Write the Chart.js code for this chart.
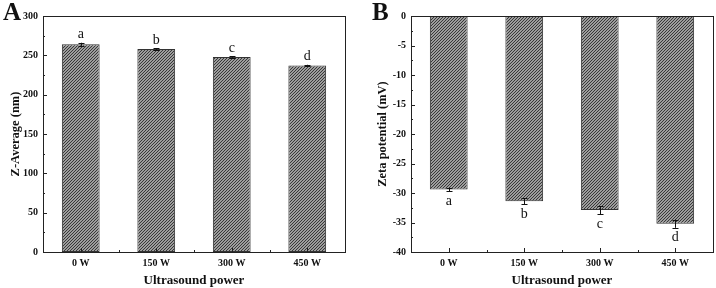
<!DOCTYPE html>
<html>
<head>
<meta charset="utf-8">
<script src="https://cdn.jsdelivr.net/npm/chart.js@4"></script>
<style>
  html, body { margin: 0; padding: 0; background: #fff; }
  #wrap { position: relative; width: 716px; height: 288px; display: flex; }
  .panel { position: relative; width: 358px; height: 288px; }
  .letter { position: absolute; font: bold 25px 'Liberation Serif', serif; color: #111; }
</style>
</head>
<body>
<div id="wrap">
  <div class="panel"><canvas id="chartA" width="358" height="288"></canvas><div class="letter" style="left:3px;top:-2px">A</div></div>
  <div class="panel"><canvas id="chartB" width="358" height="288"></canvas><div class="letter" style="left:14px;top:-2px">B</div></div>
</div>
<script>
// Data
const powers = ["0 W", "150 W", "300 W", "450 W"];
const zAverage = [264, 258, 248, 237];
const zAverageErr = [2, 1, 1, 1];
const zAverageLetters = ["a", "b", "c", "d"];
const zeta = [-29.4, -31.4, -32.9, -35.2];
const zetaErr = [0.3, 0.5, 0.7, 0.7];
const zetaLetters = ["a", "b", "c", "d"];

const serif = "'Liberation Serif', 'Times New Roman', serif";

// Hatched fill like the original
function makeHatch() {
    const s = 3;
    const c = document.createElement("canvas");
    c.width = s; c.height = s;
    const g = c.getContext("2d");
    g.fillStyle = "#cccccc";
    g.fillRect(0, 0, s, s);
    g.strokeStyle = "#333";
    g.lineWidth = 1.15;
    g.beginPath();
    g.moveTo(0, s); g.lineTo(s, 0);
    g.moveTo(-1, 1); g.lineTo(1, -1);
    g.moveTo(s - 1, s + 1); g.lineTo(s + 1, s - 1);
    g.stroke();
    return g.createPattern(c, "repeat");
}

// Frame, inward ticks, error bars and letters
const extras = {
    id: "extras",
    afterDatasetsDraw(chart, args, opts) {
        const ctx = chart.ctx;
        const a = chart.chartArea;
        const x = chart.scales.x, y = chart.scales.y;
        ctx.save();
        ctx.strokeStyle = "#222";
        ctx.lineWidth = 1;
        ctx.strokeRect(Math.round(a.left) + 0.5, Math.round(a.top) + 0.5,
            Math.round(a.right - a.left), Math.round(a.bottom - a.top));

        // y ticks (major + minor) pointing inward
        ctx.beginPath();
        const step = opts.step;
        for (let v = y.min; v <= y.max + 1e-9; v += step / 2) {
            const py = Math.round(y.getPixelForValue(v)) + 0.5;
            const major = Math.abs((v - y.min) / step - Math.round((v - y.min) / step)) < 1e-6;
            const len = major ? 4 : 2;
            ctx.moveTo(a.left, py); ctx.lineTo(a.left + len, py);
        }
        // x ticks: major at categories, minor at boundaries
        const n = chart.data.labels.length;
        for (let i = 0; i < n; i++) {
            const px = Math.round(x.getPixelForValue(i)) + 0.5;
            ctx.moveTo(px, a.bottom); ctx.lineTo(px, a.bottom - 4);
            if (i < n - 1) {
                const mx = Math.round((x.getPixelForValue(i) + x.getPixelForValue(i + 1)) / 2) + 0.5;
                ctx.moveTo(mx, a.bottom); ctx.lineTo(mx, a.bottom - 2);
            }
        }
        ctx.stroke();

        // error bars
        const ds = chart.data.datasets[0];
        ctx.beginPath();
        ctx.strokeStyle = "#111";
        ds.data.forEach((v, i) => {
            const px = Math.round(x.getPixelForValue(i)) + 0.5;
            const e = opts.err[i];
            const y1 = y.getPixelForValue(v + e), y2 = y.getPixelForValue(v - e);
            ctx.moveTo(px, y1); ctx.lineTo(px, y2);
            ctx.moveTo(px - 3, Math.round(y1) + 0.5); ctx.lineTo(px + 3, Math.round(y1) + 0.5);
            ctx.moveTo(px - 3, Math.round(y2) + 0.5); ctx.lineTo(px + 3, Math.round(y2) + 0.5);
        });
        ctx.stroke();

        // significance letters
        ctx.fillStyle = "#111";
        ctx.font = "14px " + serif;
        ctx.textAlign = "center";
        ds.data.forEach((v, i) => {
            const px = x.getPixelForValue(i);
            const e = opts.err[i];
            if (opts.below) {
                ctx.textBaseline = "top";
                ctx.fillText(opts.letters[i], px, y.getPixelForValue(v - e) + 3);
            } else {
                ctx.textBaseline = "bottom";
                ctx.fillText(opts.letters[i], px, y.getPixelForValue(v + e) - 1);
            }
        });
        ctx.restore();
    }
};

function buildChart(id, values, err, letters, yMin, yMax, step, yTitle, axisW, padRight, titlePad, below) {
    const tickFont = { family: serif, size: 10, weight: "bold" };
    const titleFont = { family: serif, size: 13, weight: "bold" };
    return new Chart(document.getElementById(id).getContext("2d"), {
        type: "bar",
        data: {
            labels: powers,
            datasets: [{
                data: values,
                backgroundColor: makeHatch(),
                borderColor: "#333",
                borderWidth: 1,
                borderSkipped: false,
                categoryPercentage: 0.5,
                barPercentage: 1.0,
            }],
        },
        options: {
            responsive: false,
            animation: false,
            layout: { padding: { left: 0, right: padRight, top: 16, bottom: 0 } },
            plugins: {
                legend: { display: false },
                tooltip: { enabled: false },
                extras: { err: err, letters: letters, step: step, below: below },
            },
            scales: {
                x: {
                    grid: { display: false, drawTicks: false },
                    border: { display: false },
                    ticks: { font: tickFont, color: "#111", padding: 5 },
                    title: { display: true, text: "Ultrasound power", font: titleFont, color: "#111", padding: { top: 2, bottom: 0 } },
                    afterFit(s) { s.height = 36; },
                },
                y: {
                    min: yMin, max: yMax,
                    grid: { display: false, drawTicks: false },
                    border: { display: false },
                    ticks: { stepSize: step, font: tickFont, color: "#111", padding: 5 },
                    title: { display: true, text: yTitle, font: { family: serif, size: 12.5, weight: "bold" }, color: "#111", padding: { top: titlePad, bottom: 0 } },
                    afterFit(s) { s.width = axisW; },
                },
            },
        },
        plugins: [extras],
    });
}

buildChart("chartA", zAverage, zAverageErr, zAverageLetters, 0, 300, 50, "Z-Average (nm)", 43, 13, 8, false);
buildChart("chartB", zeta, zetaErr, zetaLetters, -40, 0, 5, "Zeta potential (mV)", 53, 3, 17, true);
</script>
</body>
</html>
